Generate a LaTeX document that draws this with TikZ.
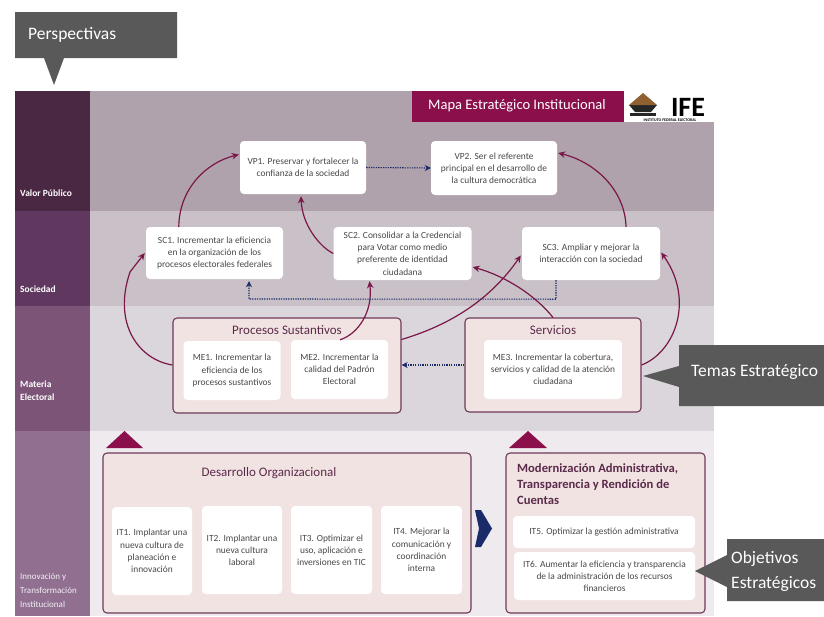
\documentclass[tikz,border=0pt]{standalone}
\usepackage{fontspec}
\setmainfont{Carlito}
\usetikzlibrary{calc,arrows.meta}
\definecolor{lA}{HTML}{4A2742}\definecolor{rA}{HTML}{B0A2AD}
\definecolor{lB}{HTML}{60385F}\definecolor{rB}{HTML}{C9C0C8}
\definecolor{lC}{HTML}{7C5477}\definecolor{rC}{HTML}{DAD6DB}
\definecolor{lD}{HTML}{906F90}\definecolor{rD}{HTML}{EEEAEE}
\definecolor{wine}{HTML}{8A0F4B}\definecolor{arrowc}{HTML}{7A1748}
\definecolor{navy}{HTML}{1B2A68}\definecolor{panel}{HTML}{F2E3E3}
\definecolor{panelb}{HTML}{6F3A5A}\definecolor{callout}{HTML}{595959}
\definecolor{txt}{HTML}{484848}\definecolor{ttl}{HTML}{5A2A4A}
\tikzset{
 x=1pt,y=-1pt,
 card/.style={fill=white,rounded corners=4pt,inner sep=0pt,align=center,text=txt,font=\fontsize{9.4}{12.2}\selectfont},
 topic/.style={fill=panel,draw=panelb,line width=1.1pt,rounded corners=4pt},
 bandtxt/.style={anchor=west,inner sep=0pt,text=white,align=left,font=\fontsize{9.5}{13}\selectfont\bfseries},
 flow/.style={draw=arrowc,line width=1.2pt,-{Stealth[length=7pt,width=6.5pt]}},
 dots/.style={draw=navy,line width=1.1pt,dash pattern=on 1.3pt off 1.1pt,-{Stealth[length=6pt,width=6pt]}},
 ttltxt/.style={inner sep=0pt,text=ttl,font=\fontsize{13}{15}\selectfont},
 calltxt/.style={inner sep=0pt,text=white,align=left,anchor=west,font=\fontsize{17.5}{25}\selectfont},
}
\begin{document}
\begin{tikzpicture}
\useasboundingbox (0,0) rectangle (824,616);
\fill[white] (0,0) rectangle (824,616);
% bands
\fill[rA] (90,91) rectangle (714,211); \fill[lA] (15,91) rectangle (90,211);
\fill[rB] (90,211) rectangle (714,306); \fill[lB] (15,211) rectangle (90,306);
\fill[rC] (90,306) rectangle (714,431); \fill[lC] (15,306) rectangle (90,431);
\fill[rD] (90,431) rectangle (714,616); \fill[lD] (15,431) rectangle (90,616);
\node[bandtxt] (bA) at (20,193) {Valor Público};
\node[bandtxt] (bB) at (20,289) {Sociedad};
\node[bandtxt] (bC) at (20,391) {Materia\\Electoral};
\node[bandtxt,font=\fontsize{9}{14}\selectfont,text=white!90!lD] (bD) at (20,590) {Innovación y\\Transformación\\Institucional};
% header
\fill[wine] (412,91) rectangle (624,122);
\node[inner sep=0pt,text=white,font=\fontsize{14.5}{16}\selectfont] (title) at (517,106) {Mapa Estratégico Institucional};
\fill[white] (624,91) rectangle (714,122);
\fill[black!85] (629,105) -- (643,105) -- (657,105) -- (651,112) -- (635,112) -- cycle;
\fill[black!85] (630,113) rectangle (656,116);
\fill[brown!75!black] (643,93) -- (657,105) -- (629,105) -- cycle;
\node[inner sep=0pt,font=\fontsize{28}{28}\selectfont\bfseries,text=black] (ife) at (688,107) {IFE};
\node[inner sep=0pt,font=\fontsize{4}{4}\selectfont\bfseries,text=black] (ifesub) at (670,120) {INSTITUTO FEDERAL ELECTORAL};
% topic panels
\node[topic,minimum width=228pt,minimum height=95pt] (proc) at (287,365.5) {};
\node[topic,minimum width=176pt,minimum height=94pt] (serv) at (553,365) {};
\node[topic,minimum width=368pt,minimum height=160pt] (dev) at (287,533) {};
\node[topic,minimum width=199pt,minimum height=160pt] (mod) at (605.5,533) {};
\node[ttltxt] (procT) at (287,330) {Procesos Sustantivos};
\node[ttltxt] (servT) at (553,330) {Servicios};
\node[ttltxt] (devT) at (269,473) {Desarrollo Organizacional};
\node[inner sep=0pt,text=ttl,anchor=west,align=left,font=\fontsize{12.6}{16}\selectfont\bfseries] (modT) at (517,484) {Modernización Administrativa,\\Transparencia y Rendición de\\Cuentas};
% triangles
\fill[wine] (106,448) -- (124.5,431) -- (143,448) -- cycle;
\fill[wine] (509,448) -- (528,431) -- (547,448) -- cycle;
\fill[navy] (475,510) -- (481,510) -- (492,528.5) -- (481,547) -- (475,547) -- (479,528.5) -- cycle;
% cards
\node[card,minimum width=126pt,minimum height=53pt] (vp1) at (303,167.5) {VP1. Preservar y fortalecer la\\confianza de la sociedad};
\node[card,minimum width=126pt,minimum height=54pt] (vp2) at (494,168) {VP2. Ser el referente\\principal en el desarrollo de\\la cultura democrática};
\node[card,minimum width=137pt,minimum height=52pt] (sc1) at (214.5,253) {SC1. Incrementar la eficiencia\\en la organización de los\\procesos electorales federales};
\node[card,minimum width=138pt,minimum height=53pt] (sc2) at (402.5,253.5) {SC2. Consolidar a la Credencial\\para Votar como medio\\preferente de identidad\\ciudadana};
\node[card,minimum width=138pt,minimum height=53pt] (sc3) at (591,253.5) {SC3. Ampliar y mejorar la\\interacción con la sociedad};
\node[card,minimum width=97pt,minimum height=59pt] (me1) at (232,370.5) {ME1. Incrementar la\\eficiencia de los\\procesos sustantivos};
\node[card,minimum width=97pt,minimum height=59pt] (me2) at (339.5,369.5) {ME2. Incrementar la\\calidad del Padrón\\Electoral};
\node[card,minimum width=138pt,minimum height=59pt] (me3) at (553,369.5) {ME3. Incrementar la cobertura,\\servicios y calidad de la atención\\ciudadana};
\node[card,minimum width=80pt,minimum height=88pt] (it1) at (152,551) {IT1. Implantar una\\nueva cultura de\\planeación e\\innovación};
\node[card,minimum width=80pt,minimum height=88pt] (it2) at (242,550) {IT2. Implantar una\\nueva cultura\\laboral};
\node[card,minimum width=81pt,minimum height=88pt] (it3) at (331.5,550) {IT3. Optimizar el\\uso, aplicación e\\inversiones en TIC};
\node[card,minimum width=81pt,minimum height=88pt] (it4) at (421.5,550) {IT4. Mejorar la\\comunicación y\\coordinación\\interna};
\node[card,minimum width=182pt,minimum height=32pt] (it5) at (604,532) {IT5. Optimizar la gestión administrativa};
\node[card,minimum width=181pt,minimum height=48pt] (it6) at (604.5,576) {IT6. Aumentar la eficiencia y transparencia\\de la administración de los recursos\\financieros};
% flow arrows
\draw[flow] ($(sc1.north west)+(33,0)$) .. controls (179,190) and (205,163) .. ($(vp1.west)+(-1,-13)$);
\draw[flow] ($(proc.west)+(0,-0.5)$) .. controls (140,360) and (112,325) .. (130,272) -- ($(sc1.west)+(-1,0)$);
\draw[flow] ($(sc2.west)+(0,0)$) .. controls (320,247) and (302,225) .. ($(vp1.south)+(-2,2)$);
\draw[flow] ($(me2.north)+(0.5,0)$) .. controls (358,334) and (373,312) .. ($(sc2.south)+(-33,1)$);
\draw[flow] ($(proc.east)+(0,-26)$) .. controls (450,325) and (490,300) .. ($(sc3.west)+(-1,2)$);
\draw[flow] ($(serv.north)+(0,0)$) .. controls (535,295) and (505,276) .. ($(sc2.east)+(1,13.5)$);
\draw[flow] ($(serv.east)+(0,0)$) .. controls (675,352) and (695,300) .. ($(sc3.east)+(1,-1)$);
\draw[flow] ($(sc3.north)+(35,0)$) .. controls (625,190) and (595,162) .. ($(vp2.east)+(1,-15)$);
% dotted arrows
\draw[dots] (vp1.east) -- (vp2.west);
\draw[dots] ($(sc3.south)+(-35,0)$) -- ++(0,19) -- (249,299) -- ($(sc1.south)+(34.5,2)$);
\draw[dots] ($(serv.west)+(0,0)$) -- ($(proc.east)+(0,-0.5)$);
% callouts
\fill[callout] (15,12) -- (177,12) -- (177,58) -- (64,58) -- (54,85) -- (44,58) -- (15,58) -- cycle;
\node[calltxt] (persp) at (28,35) {Perspectivas};
\fill[callout] (679,345) -- (824,345) -- (824,406) -- (679,406) -- (679,387) -- (643,376) -- (679,366) -- cycle;
\node[calltxt] (temas) at (691,372) {Temas Estratégico};
\fill[callout] (727,539) -- (824,539) -- (824,601) -- (727,601) -- (727,587) -- (695,571) -- (727,555) -- cycle;
\node[calltxt] (obj) at (731,571) {Objetivos\\Estratégicos};
\end{tikzpicture}
\end{document}
